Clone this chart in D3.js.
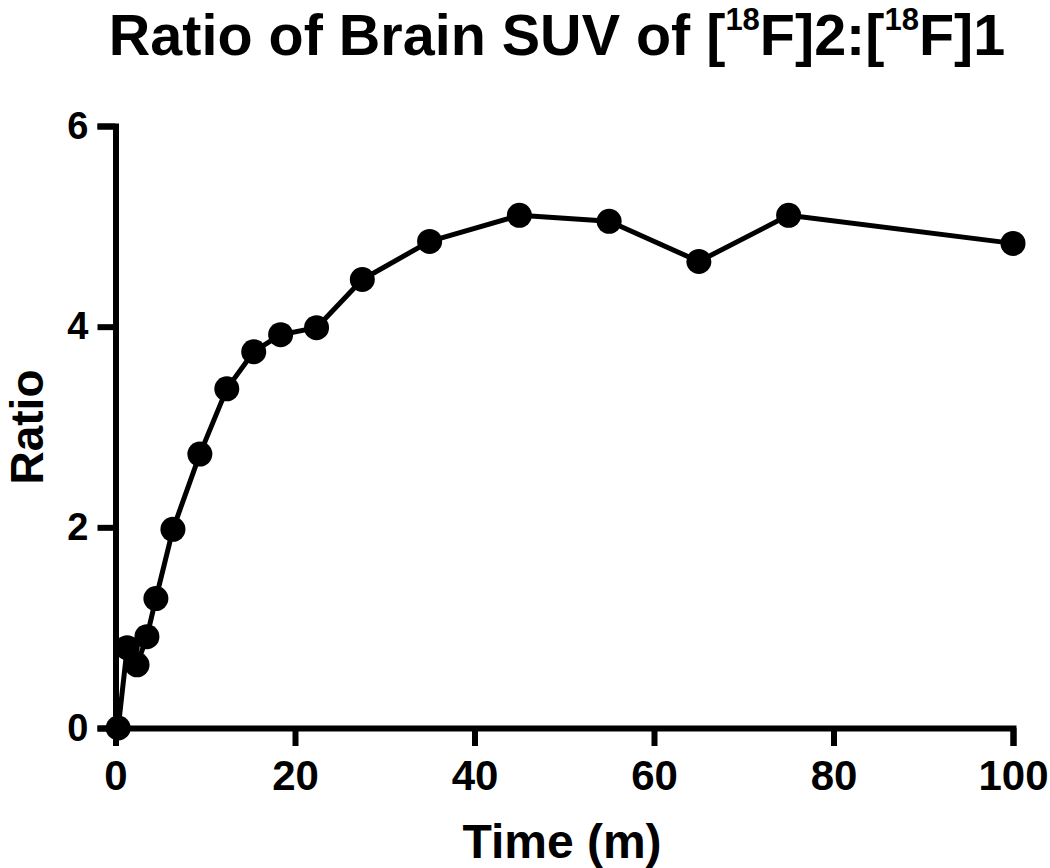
<!DOCTYPE html>
<html>
<head>
<meta charset="utf-8">
<script src="https://cdn.jsdelivr.net/npm/d3@7"></script>
<style>
  body { margin: 0; background: #fff; }
  svg { display: block; font-family: "Liberation Sans", Arial, sans-serif; font-weight: bold; }
</style>
</head>
<body>
<svg id="chart" width="1050" height="868"></svg>
<script>
var w = 1050;
var h = 868;

// data
var times = [0.3, 1.3, 2.4, 3.5, 4.5, 6.4, 9.4, 12.4, 15.4, 18.4, 22.4, 27.5, 35, 45, 55, 65, 75, 100];
var ratios = [0.0, 0.80, 0.63, 0.91, 1.29, 1.98, 2.73, 3.38, 3.75, 3.92, 3.99, 4.47, 4.85, 5.11, 5.05, 4.65, 5.11, 4.83];
var xTicks = [0, 20, 40, 60, 80, 100];
var yTicks = [0, 2, 4, 6];

var dataset = times.map((t, i) => ({ Time: t, Ratio: ratios[i] }));

var canvas = d3.select("#chart");

var xScale = d3.scaleLinear().domain([0, 100]).range([115.5, 1013]);
var yScale = d3.scaleLinear().domain([0, 6]).range([728, 126]);

var xAxis = d3.axisBottom(xScale).tickValues(xTicks).tickSize(18).tickFormat(d3.format("d"));
var yAxis = d3.axisLeft(yScale).tickValues(yTicks).tickSize(18).tickFormat(d3.format("d"));

var gx = canvas.append("g")
  .attr("class", "xAxis")
  .attr("transform", "translate(0," + yScale(0) + ")")
  .call(xAxis);

var gy = canvas.append("g")
  .attr("class", "yAxis")
  .attr("transform", "translate(" + xScale(0) + ",0)")
  .call(yAxis);

[gx, gy].forEach(function (g) {
  g.attr("font-family", null).attr("font-size", null);
  g.selectAll("path, line").attr("stroke", "#000").attr("stroke-width", 6);
  g.select(".domain").attr("stroke-linejoin", "miter");
  g.selectAll("text").attr("fill", "#000");
});
gx.selectAll("text").attr("y", 32).style("font-size", "42px");
gy.selectAll("text").attr("x", -27).style("font-size", "38px");

// line + points
var line = d3.line()
  .x((d) => xScale(d.Time))
  .y((d) => yScale(d.Ratio));

canvas.append("path")
  .datum(dataset)
  .attr("d", line)
  .attr("fill", "none")
  .attr("stroke", "#000")
  .attr("stroke-width", 5)
  .attr("stroke-linejoin", "round");

canvas.selectAll("circle.pt")
  .data(dataset)
  .join("circle")
  .attr("class", "pt")
  .attr("cx", (d) => xScale(d.Time))
  .attr("cy", (d) => yScale(d.Ratio))
  .attr("r", 12.5)
  .attr("fill", "#000");

// title with superscripts
var title = canvas.append("text")
  .attr("x", 557)
  .attr("y", 55)
  .attr("text-anchor", "middle")
  .style("font-size", "57.5px");
title.append("tspan").text("Ratio of Brain SUV of [");
title.append("tspan").attr("dy", -25).style("font-size", "31px").text("18");
title.append("tspan").attr("dy", 25).text("F]2:[");
title.append("tspan").attr("dy", -25).style("font-size", "31px").text("18");
title.append("tspan").attr("dy", 25).text("F]1");

// axis titles
canvas.append("text")
  .attr("x", 562)
  .attr("y", 858)
  .attr("text-anchor", "middle")
  .style("font-size", "48px")
  .text("Time (m)");

canvas.append("text")
  .attr("transform", "translate(43,427) rotate(-90)")
  .attr("text-anchor", "middle")
  .style("font-size", "46px")
  .text("Ratio");
</script>
</body>
</html>
